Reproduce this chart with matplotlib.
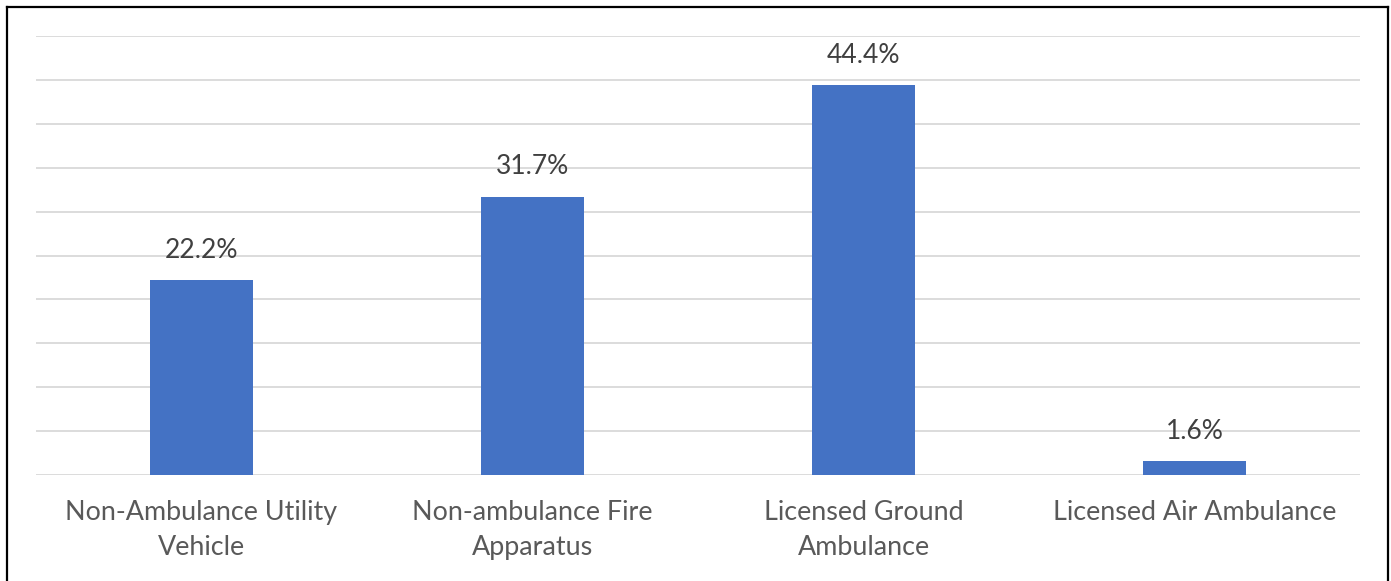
import textwrap
import matplotlib
matplotlib.use("Agg")
import matplotlib.pyplot as plt
from matplotlib.lines import Line2D

categories = ["Non-Ambulance Utility Vehicle", "Non-ambulance Fire Apparatus",
              "Licensed Ground Ambulance", "Licensed Air Ambulance"]
values = [22.2, 31.7, 44.4, 1.6]
value_labels = ["22.2%", "31.7%", "44.4%", "1.6%"]

W, H = 1391, 581
plt.rcParams['font.family'] = ['Lato', 'DejaVu Sans']
fig = plt.figure(figsize=(W / 100, H / 100), dpi=100)
ax = fig.add_axes([36 / W, (H - 475) / H, (1360 - 36) / W, (475 - 36) / H])

x = list(range(len(categories)))
bars = ax.bar(x, values, width=0.31, color="#4472C4", zorder=3)
ax.set_xlim(-0.5, len(categories) - 0.5)
ax.set_ylim(0, 50)
ax.set_yticks(range(0, 51, 5))
ax.yaxis.grid(True, color="#D9D9D9", linewidth=1.3, zorder=0)
ax.tick_params(axis='y', left=False, labelleft=False)
ax.tick_params(axis='x', length=0, pad=18, labelsize=19.4, labelcolor="#595959")
ax.set_xticks(x)
ax.set_xticklabels([textwrap.fill(c, 22) for c in categories], linespacing=1.5)
for s in ax.spines.values():
    s.set_visible(False)

for xi, v, lab in zip(x, values, value_labels):
    ax.annotate(lab, (xi, v), xytext=(0, 16), textcoords="offset points",
                ha="center", va="baseline", fontsize=19, color="#404040")

# outer border (bottom edge cropped in the reference)
bx0, bx1, by1 = 7 / W, 1388 / W, 1 - 6.5 / H
for xs, ys in [([bx0, bx0], [-0.1, by1]), ([bx0, bx1], [by1, by1]), ([bx1, bx1], [by1, -0.1])]:
    fig.add_artist(Line2D(xs, ys, transform=fig.transFigure, color="black", linewidth=1.6))

fig.savefig("out.png", dpi=100)
